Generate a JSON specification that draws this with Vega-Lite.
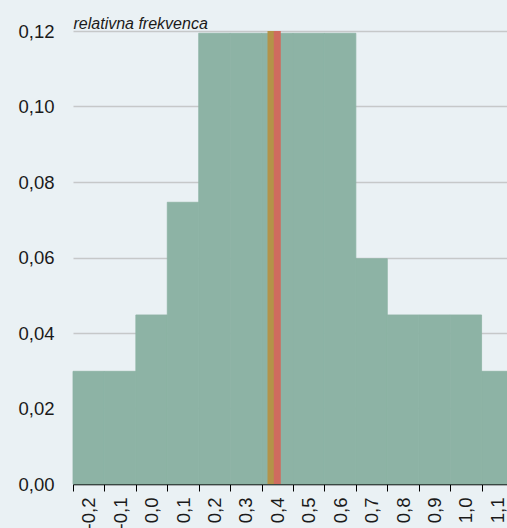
{
  "$schema": "https://vega.github.io/schema/vega-lite/v6.json",
  "width": 440,
  "height": 453,
  "autosize": {"type": "none"},
  "padding": {"left": 73, "top": 31, "right": -6, "bottom": 44},
  "background": "#eaf1f4",
  "config": {
    "view": {"stroke": null},
    "font": "Liberation Sans, Arial, sans-serif"
  },
  "datasets": {
    "hist": [
      {"bin": "-0,2", "freq": 0.02985},
      {"bin": "-0,1", "freq": 0.02985},
      {"bin": "0,0", "freq": 0.04478},
      {"bin": "0,1", "freq": 0.07463},
      {"bin": "0,2", "freq": 0.1194},
      {"bin": "0,3", "freq": 0.1194},
      {"bin": "0,4", "freq": 0.1194},
      {"bin": "0,5", "freq": 0.1194},
      {"bin": "0,6", "freq": 0.1194},
      {"bin": "0,7", "freq": 0.0597},
      {"bin": "0,8", "freq": 0.04478},
      {"bin": "0,9", "freq": 0.04478},
      {"bin": "1,0", "freq": 0.04478},
      {"bin": "1,1", "freq": 0.02985}
    ],
    "marks": [
      {"stat": "a", "value": 0.38},
      {"stat": "b", "value": 0.40}
    ]
  },
  "layer": [
    {
      "data": {"name": "hist"},
      "mark": {"type": "bar", "fill": "#8db3a5", "stroke": "#8db3a5", "strokeWidth": 0.8},
      "encoding": {
        "x": {
          "field": "bin",
          "type": "ordinal",
          "sort": null,
          "scale": {"paddingInner": 0, "paddingOuter": 0},
          "axis": {
            "title": null,
            "labelAngle": -90,
            "labelFontSize": 18.5,
            "labelColor": "#1a1a1a",
            "labelPadding": 6,
            "tickBand": "extent",
            "tickSize": 7,
            "tickColor": "#000000",
            "domainColor": "#000000",
            "domainWidth": 1.5,
            "grid": false
          }
        },
        "y": {
          "field": "freq",
          "type": "quantitative",
          "scale": {"domain": [0, 0.12], "nice": false},
          "axis": {
            "values": [0, 0.02, 0.04, 0.06, 0.08, 0.1, 0.12],
            "labelExpr": "replace(format(datum.value, '.2f'), '.', ',')",
            "labelFontSize": 18.5,
            "labelColor": "#1a1a1a",
            "labelPadding": 19,
            "ticks": false,
            "domain": false,
            "grid": true,
            "gridColor": "#c6c8c9",
            "gridWidth": 1.5,
            "title": "relativna frekvenca",
            "titleAngle": 0,
            "titleAlign": "left",
            "titleBaseline": "alphabetic",
            "titleX": 0,
            "titleY": -3,
            "titleFontSize": 16,
            "titleFontStyle": "italic",
            "titleFontWeight": "normal",
            "titleColor": "#1a1a1a"
          }
        }
      }
    },
    {
      "data": {"name": "marks"},
      "mark": {"type": "rule", "strokeWidth": 7},
      "encoding": {
        "x": {
          "field": "value",
          "type": "quantitative",
          "scale": {"domain": [-0.25, 1.15], "nice": false, "zero": false},
          "axis": null
        },
        "color": {
          "field": "stat",
          "type": "nominal",
          "scale": {"domain": ["a", "b"], "range": ["#b39349", "#cf6b5f"]},
          "legend": null
        }
      }
    }
  ],
  "resolve": {"scale": {"x": "independent"}}
}
